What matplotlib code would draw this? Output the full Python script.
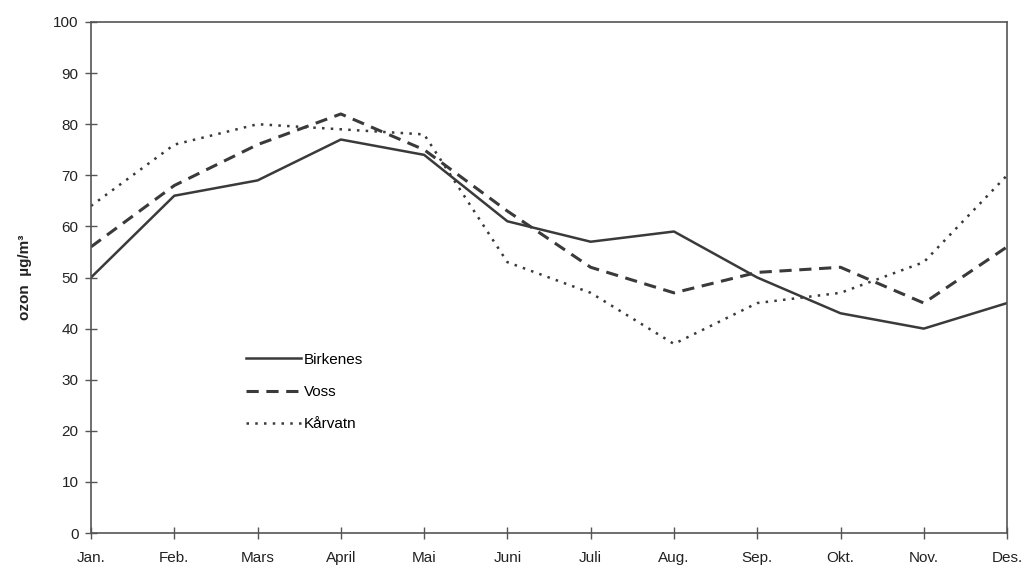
import matplotlib.pyplot as plt

# Monthly mean ozone (µg/m³)
months = ['Jan.', 'Feb.', 'Mars', 'April', 'Mai', 'Juni', 'Juli', 'Aug.',
          'Sep.', 'Okt.', 'Nov.', 'Des.']
birkenes = [50, 66, 69, 77, 74, 61, 57, 59, 50, 43, 40, 45]
voss = [56, 68, 76, 82, 75, 63, 52, 47, 51, 52, 45, 56]
karvatn = [64, 76, 80, 79, 78, 53, 47, 37, 45, 47, 53, 70]

plt.rcParams['font.family'] = ['Liberation Sans', 'DejaVu Sans']

fig = plt.figure(figsize=(10.27, 5.71), dpi=100)
ax = fig.add_axes([0.0886, 0.0665, 0.892, 0.895])

x = range(len(months))
line_col = '#3a3a3a'
ax.plot(x, birkenes, color=line_col, lw=1.8, ls='-', label='Birkenes')
ax.plot(x, voss, color=line_col, lw=2.2, ls=(0, (4, 2.5)), label='Voss')
ax.plot(x, karvatn, color=line_col, lw=1.8, ls=(0, (1, 2.5)), label='Kårvatn')

ax.set_xlim(0, len(months) - 1)
ax.set_ylim(0, 100)
ax.set_yticks(range(0, 101, 10))
ax.set_xticks(list(x))
ax.set_xticklabels(months)

for s in ax.spines.values():
    s.set_color('#555555')
    s.set_linewidth(1.2)
ax.tick_params(axis='both', direction='inout', length=8, width=1,
               color='#555555', labelsize=11, labelcolor='#222222')
ax.tick_params(axis='y', pad=5)
ax.tick_params(axis='x', pad=9)

ax.set_ylabel('ozon  µg/m³', fontsize=11, fontweight='bold', color='#222222',
              labelpad=15)

ax.legend(loc='upper left', bbox_to_anchor=(0.163, 0.365), frameon=False,
          fontsize=11, handlelength=3.6, handletextpad=0.15,
          labelspacing=1.2, borderaxespad=0)

fig.savefig('out.png', dpi=100)
